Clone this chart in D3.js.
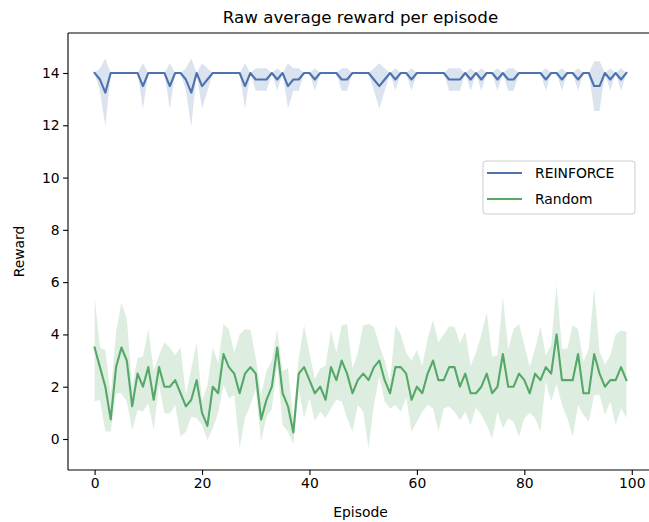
<!DOCTYPE html>
<html lang="en">
<head>
  <meta charset="UTF-8">
  <title>Raw average reward per episode</title>
  <script src="https://d3js.org/d3.v7.min.js"></script>
  <style>
    body {
      margin: 0;
      background: white;
      font-family: "DejaVu Sans", sans-serif;
    }
    svg text {
      fill: #000;
    }
  </style>
</head>
<body>
  <svg id="chart" width="649" height="522"></svg>

  <script>
    // episodes 0..99
    const episodes = d3.range(0, 100);

    const reinforceMean = [
      14, 13.75, 13.25, 14, 14, 14, 14, 14, 14, 13.5,
      14, 14, 14, 14, 13.5, 14, 14, 13.75, 13.25, 14,
      13.5, 13.75, 14, 14, 14, 14, 14, 14, 13.5, 14,
      13.75, 13.75, 13.75, 14, 13.75, 14, 13.5, 13.75, 13.75, 14,
      14, 13.75, 14, 14, 14, 14, 13.75, 13.75, 14, 14,
      14, 14, 13.75, 13.5, 13.75, 14, 13.75, 14, 14, 13.75,
      14, 14, 14, 14, 14, 14, 13.75, 13.75, 13.75, 14,
      13.75, 14, 13.75, 14, 14, 13.75, 14, 13.75, 13.75, 14,
      14, 14, 14, 14, 13.75, 14, 14, 13.75, 14, 14,
      13.75, 14, 14, 13.5, 13.5, 14, 13.75, 14, 13.75, 14
    ];
    const reinforceStd = [
      0, 0.43, 1.3, 0, 0, 0, 0, 0, 0, 0.87,
      0, 0, 0, 0, 0.87, 0, 0, 0.43, 1.3, 0,
      0.87, 0.43, 0, 0, 0, 0, 0, 0, 0.87, 0,
      0.43, 0.43, 0.43, 0, 0.43, 0, 0.87, 0.43, 0.43, 0,
      0, 0.43, 0, 0, 0, 0, 0.43, 0.43, 0, 0,
      0, 0, 0.43, 0.87, 0.43, 0, 0.43, 0, 0, 0.43,
      0, 0, 0, 0, 0, 0, 0.43, 0.43, 0.43, 0,
      0.43, 0, 0.43, 0, 0, 0.43, 0, 0.43, 0.43, 0,
      0, 0, 0, 0, 0.43, 0, 0, 0.43, 0, 0,
      0.43, 0, 0, 0.95, 0.95, 0, 0.43, 0, 0.43, 0
    ];

    const randomMean = [
      3.5, 2.75, 2.0, 0.75, 2.75, 3.5, 3.0, 1.25, 2.5, 2.0,
      2.75, 1.5, 2.75, 2.0, 2.0, 2.25, 1.75, 1.25, 1.5, 2.25,
      1.0, 0.5, 2.0, 1.75, 3.25, 2.75, 2.5, 1.75, 2.5, 2.75,
      2.5, 0.75, 1.5, 2.0, 3.5, 1.75, 1.25, 0.25, 2.5, 2.75,
      2.25, 1.75, 2.0, 1.5, 2.75, 2.25, 3.0, 2.5, 1.75, 2.25,
      2.5, 2.25, 2.75, 3.0, 2.25, 1.75, 2.75, 2.75, 2.5, 1.5,
      2.0, 1.75, 2.5, 3.0, 2.25, 2.25, 2.75, 2.75, 2.0, 2.5,
      1.75, 1.75, 2.0, 2.5, 1.75, 2.0, 3.25, 2.0, 2.0, 2.5,
      2.25, 1.75, 2.5, 2.25, 2.75, 2.5, 4.0, 2.25, 2.25, 2.25,
      3.25, 1.75, 1.75, 3.25, 2.5, 2.0, 2.25, 2.25, 2.75, 2.25
    ];
    const randomHigh = [
      5.44, 3.5, 3.4, 1.7, 4.1, 5.2, 4.6, 2.0, 3.1, 3.15,
      4.2, 2.6, 3.2, 3.7, 3.5, 3.2, 3.5, 1.7, 2.7, 3.7,
      1.45, 2.05, 3.5, 2.9, 4.4, 4.2, 3.3, 4.0, 4.2, 4.2,
      3.1, 1.7, 2.6, 3.0, 4.2, 2.6, 2.7, 0.75, 3.1, 4.35,
      3.3, 2.3, 2.7, 2.8, 4.15, 3.3, 4.35, 4.4, 2.7, 3.3,
      4.35, 4.4, 4.3, 3.6, 3.0, 2.2, 4.35, 4.0, 3.3, 3.0,
      3.4, 2.8, 3.85, 4.55, 3.7, 4.0, 4.3, 4.3, 3.65, 4.1,
      2.8, 3.3, 4.0, 4.85, 3.15, 3.2, 5.45, 3.45, 4.2, 4.4,
      3.6, 2.75, 3.45, 4.3, 3.2, 3.6, 5.9, 3.45, 3.45, 4.35,
      4.2, 2.95, 3.45, 5.8, 3.35, 2.85, 3.2, 4.0, 4.15, 4.1
    ];
    const randomLow = [
      1.43, 1.5, 0.3, 0.28, 1.75, 1.75, 1.43, 0.34, 1.1, 1.05,
      1.37, 0.34, 2.07, 0.98, 0.98, 1.3, 0.1, 0.28, 0.85, 0.8,
      0.53, -0.05, 0.41, 1.0, 2.07, 1.56, 1.68, -0.35, 0.8, 1.3,
      1.9, -0.1, 0.85, 1.15, 2.8, 0.53, 0.28, -0.2, 1.9, 0.8,
      1.56, 0.7, 1.04, 0.8, 1.17, 1.5, 1.43, 0.8, 0.28, 1.3,
      1.04, -0.35, 1.3, 2.4, 1.43, 1.17, 1.3, 1.04, 1.6, 0.28,
      0.66, 1.04, 1.3, 1.17, 0.28, 1.17, 1.24, 1.04, 0.72, 1.04,
      0.53, 1.2, 0.92, 0.53, 0.02, 1.04, 0.41, 0.79, 0.66, 0.09,
      0.79, 1.0, 0.79, 0.28, 2.2, 1.43, 2.1, 1.3, 0.79, 0.09,
      1.3, 0.92, 0.66, 1.68, 1.68, 0.92, 1.43, 0.53, 1.17, 0.8
    ];

    const xTicks = [0, 20, 40, 60, 80, 100];
    const yTicks = [0, 2, 4, 6, 8, 10, 12, 14];
    const seriesNames = ["REINFORCE", "Random"];
    const seriesColors = ["#4c72b0", "#55a868"];

    const svg = d3.select("#chart");
    const margin = {top: 33, left: 68, bottom: 470, right: 653};

    const x = d3.scaleLinear().domain([-4.95, 103.95]).range([margin.left, margin.right]);
    const y = d3.scaleLinear().domain([-1.186, 15.53]).range([margin.bottom, margin.top]);

    const plot = svg.append("g");

    // === BANDS ===
    const band = d3.area()
      .x(d => x(d.ep))
      .y0(d => y(d.lo))
      .y1(d => y(d.hi));

    const reinforceBand = episodes.map(i => ({
      ep: i, lo: reinforceMean[i] - reinforceStd[i], hi: reinforceMean[i] + reinforceStd[i]
    }));
    const randomBand = episodes.map(i => ({ep: i, lo: randomLow[i], hi: randomHigh[i]}));

    plot.append("path").datum(reinforceBand)
      .attr("d", band).attr("fill", seriesColors[0]).attr("fill-opacity", 0.2);
    plot.append("path").datum(randomBand)
      .attr("d", band).attr("fill", seriesColors[1]).attr("fill-opacity", 0.2);

    // === LINES ===
    const line = d3.line().x(d => x(d[0])).y(d => y(d[1]));
    [reinforceMean, randomMean].forEach((vals, k) => {
      plot.append("path")
        .datum(episodes.map(i => [i, vals[i]]))
        .attr("d", line)
        .attr("fill", "none")
        .attr("stroke", seriesColors[k])
        .attr("stroke-width", 2.1)
        .attr("stroke-linejoin", "round")
        .attr("stroke-linecap", "square");
    });

    // === AXES ===
    const xAxis = svg.append("g")
      .attr("transform", `translate(0,${margin.bottom})`)
      .call(d3.axisBottom(x).tickValues(xTicks).tickSize(4.9).tickPadding(3.5).tickSizeOuter(0));
    const yAxis = svg.append("g")
      .attr("transform", `translate(${margin.left},0)`)
      .call(d3.axisLeft(y).tickValues(yTicks).tickSize(4.9).tickPadding(3.5).tickSizeOuter(0));

    [xAxis, yAxis].forEach(ax => {
      ax.select(".domain").remove();
      ax.selectAll("line").attr("stroke", "#000").attr("stroke-width", 1.1);
      ax.selectAll("text")
        .attr("font-family", "DejaVu Sans, sans-serif")
        .attr("font-size", 13.9)
        .attr("fill", "#000");
    });

    // spines
    const spine = svg.append("g").attr("stroke", "#000").attr("stroke-width", 1.1);
    spine.append("line").attr("x1", margin.left).attr("x2", margin.left)
      .attr("y1", margin.top).attr("y2", margin.bottom);
    spine.append("line").attr("x1", margin.left).attr("x2", margin.right)
      .attr("y1", margin.bottom).attr("y2", margin.bottom);
    spine.append("line").attr("x1", margin.left).attr("x2", margin.right)
      .attr("y1", margin.top).attr("y2", margin.top);
    spine.append("line").attr("x1", margin.right).attr("x2", margin.right)
      .attr("y1", margin.top).attr("y2", margin.bottom);

    // === TITLES ===
    svg.append("text")
      .attr("x", (margin.left + margin.right) / 2).attr("y", 23)
      .attr("text-anchor", "middle").attr("font-size", 16.7)
      .text("Raw average reward per episode");
    svg.append("text")
      .attr("x", (margin.left + margin.right) / 2).attr("y", 517)
      .attr("text-anchor", "middle").attr("font-size", 13.9)
      .text("Episode");
    svg.append("text")
      .attr("transform", `translate(24,${(margin.top + margin.bottom) / 2}) rotate(-90)`)
      .attr("text-anchor", "middle").attr("font-size", 13.9)
      .text("Reward");

    // === LEGEND ===
    const legend = svg.append("g").attr("transform", "translate(483,161)");
    legend.append("rect")
      .attr("width", 152).attr("height", 53).attr("rx", 3)
      .attr("fill", "white").attr("fill-opacity", 0.8)
      .attr("stroke", "#cccccc").attr("stroke-width", 1);
    seriesNames.forEach((name, k) => {
      const ly = 12 + k * 26;
      legend.append("line")
        .attr("x1", 4).attr("x2", 39).attr("y1", ly).attr("y2", ly)
        .attr("stroke", seriesColors[k]).attr("stroke-width", 2.1);
      legend.append("text")
        .attr("x", 52).attr("y", ly).attr("dy", "0.36em")
        .attr("font-size", 13.9)
        .text(name);
    });
  </script>
</body>
</html>
